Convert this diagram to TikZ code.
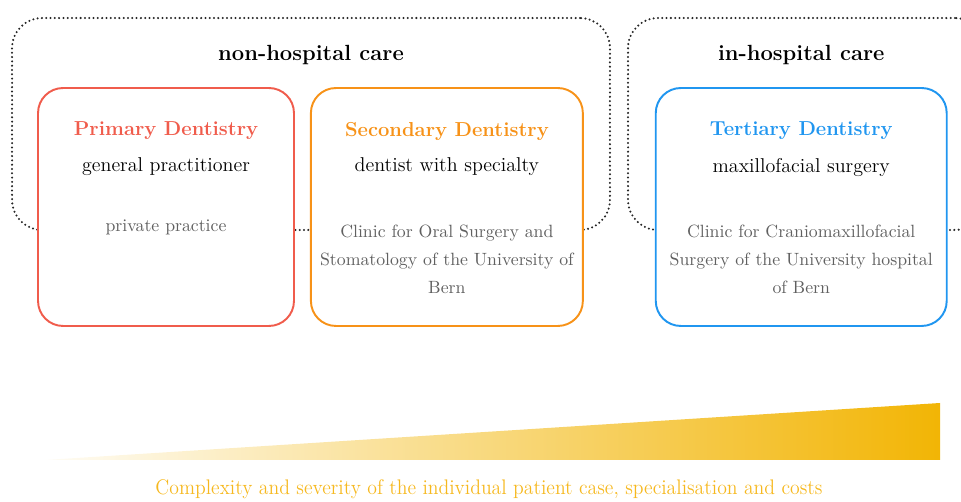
\documentclass[tikz,border=0pt]{standalone}
\usepackage{tikz}
\usetikzlibrary{positioning}
\definecolor{primred}{RGB}{240,92,76}
\definecolor{secorange}{RGB}{247,146,24}
\definecolor{tertblue}{RGB}{32,150,240}
\definecolor{clinicgray}{RGB}{96,96,96}
\definecolor{wedgegold}{RGB}{242,181,5}
\definecolor{capgold}{RGB}{246,184,30}
\tikzset{
	carebox/.style={draw=black!85, line width=1.3pt, dash pattern=on 0pt off 2.45pt, line cap=round, rounded corners=0.6cm},
	levelbox/.style={draw=#1, fill=white, line width=1.1pt, rounded corners=0.5cm, minimum height=4.76cm},
	care/.style={font=\fontsize{12.5}{15}\selectfont\bfseries},
	level/.style={font=\fontsize{11.5}{14}\selectfont\bfseries, text=#1},
	sub/.style={font=\fontsize{11.4}{14}\selectfont},
	clinic/.style={font=\fontsize{10.1}{15.9}\selectfont, text=clinicgray, align=center},
	caption/.style={font=\fontsize{12}{14}\selectfont, text=capgold, xscale=0.935}
}
\begin{document}
\begin{tikzpicture}[x=0.02cm, y=-0.02cm, node distance=0.3cm]
	\clip (0,0) rectangle (961,502);
	\node(N)[carebox, minimum width=11.96cm, minimum height=4.24cm] at (311,124){};
	\node(H)[carebox, minimum width=7.14cm, minimum height=4.24cm] at (806.5,124){};
	\node(P)[levelbox=primred, minimum width=5.12cm] at (166,207){};
	\node(S)[levelbox=secorange, minimum width=5.44cm, right=of P]{};
	\node(T)[levelbox=tertblue, minimum width=5.82cm, right=1.42cm of S]{};
	\node(Nl)[care] at ([yshift=-0.76cm]N.north){non-hospital care};
	\node(Hl)[care] at (T |- Nl){in-hospital care};
	\node(Pt)[level=primred] at ([yshift=-0.88cm]P.north){Primary Dentistry};
	\node(St)[level=secorange] at ([yshift=-0.88cm]S.north){Secondary Dentistry};
	\node(Tt)[level=tertblue] at ([yshift=-0.88cm]T.north){Tertiary Dentistry};
	\node(Pg)[sub, below of=Pt, node distance=0.72cm]{general practitioner};
	\node(Sg)[sub, below of=St, node distance=0.72cm]{dentist with specialty};
	\node(Tg)[sub, below of=Tt, node distance=0.72cm]{maxillofacial surgery};
	\node(Pc)[clinic, below of=Pg, node distance=1.2cm]{private practice};
	\node(Sc)[clinic, below of=Sg, node distance=1.84cm]{Clinic for Oral Surgery and\\Stomatology of the University of\\Bern};
	\node(Tc)[clinic, below of=Tg, node distance=1.84cm]{Clinic for Craniomaxillofacial\\Surgery of the University hospital\\of Bern};
	\coordinate(W1) at (45,460);
	\coordinate(W2) at (940,403);
	\coordinate(W3) at (940,460);
	\shade[left color=wedgegold!4, right color=wedgegold] (W1) -- (W2) -- (W3) -- cycle;
	\node(C)[caption] at (489,489){Complexity and severity of the individual patient case, specialisation and costs};
\end{tikzpicture}
\end{document}
